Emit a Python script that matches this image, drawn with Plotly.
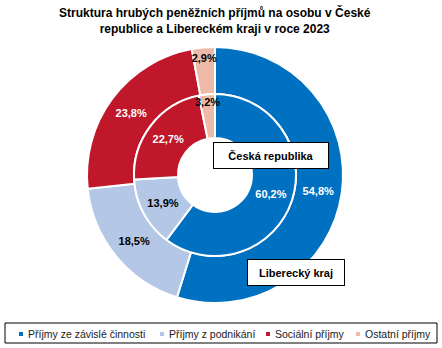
import plotly.graph_objects as go

categories = ["Příjmy ze závislé činnosti", "Příjmy z podnikání", "Sociální příjmy", "Ostatní příjmy"]
liberecky = [54.8, 18.5, 23.8, 2.9]
ceska = [60.2, 13.9, 22.7, 3.2]
colors = ["#0070C0", "#B4C7E7", "#C0182A", "#EDBAA7"]
outer_text_colors = ["white", "black", "white", "black"]
inner_text_colors = ["white", "black", "white", "black"]

W, H = 442, 348
cx, cy = 215, 175
R_out, R_in = 128, 81
R_hole = 37
FONT = "Liberation Sans, Arial"

def fmt(v):
    return f"{v:.1f}%".replace(".", ",")

def dom(r):
    return dict(x=[(cx - r) / W, (cx + r) / W], y=[1 - (cy + r) / H, 1 - (cy - r) / H])

fig = go.Figure()
fig.add_trace(go.Pie(
    labels=categories, values=liberecky, text=[fmt(v) for v in liberecky],
    textinfo="text", hoverinfo="label+text", sort=False, direction="clockwise", rotation=0,
    hole=R_in / R_out, domain=dom(R_out),
    marker=dict(colors=colors, line=dict(color="white", width=2)),
    textposition="inside", insidetextorientation="horizontal",
    textfont=dict(family=FONT, size=11, color=outer_text_colors, weight="bold"),
    name="Liberecký kraj", showlegend=False,
))
fig.add_trace(go.Pie(
    labels=categories, values=ceska, text=[fmt(v) for v in ceska],
    textinfo="text", hoverinfo="label+text", sort=False, direction="clockwise", rotation=0,
    hole=R_hole / R_in, domain=dom(R_in),
    marker=dict(colors=colors, line=dict(color="white", width=2)),
    textposition="inside", insidetextorientation="horizontal",
    textfont=dict(family=FONT, size=11, color=inner_text_colors, weight="bold"),
    name="Česká republika", showlegend=False,
))

# region labels
fig.add_annotation(x=271 / W, y=1 - 155.5 / H, xref="paper", yref="paper",
                   xanchor="center", yanchor="middle",
                   text="<b>Česká republika</b>", showarrow=False,
                   font=dict(family=FONT, size=11, color="black"),
                   bgcolor="white", bordercolor="black", borderwidth=1,
                   width=112, height=23)
fig.add_annotation(x=296 / W, y=1 - 272 / H, xref="paper", yref="paper",
                   xanchor="center", yanchor="middle",
                   text="<b>Liberecký kraj</b>", showarrow=False,
                   font=dict(family=FONT, size=11, color="black"),
                   bgcolor="white", bordercolor="black", borderwidth=1,
                   width=94, height=23)
# title
fig.add_annotation(x=215 / W, y=1 - 3 / H, xref="paper", yref="paper",
                   xanchor="center", yanchor="top", showarrow=False,
                   text="<b>Struktura hrubých peněžních příjmů na osobu v České<br>republice a Libereckém kraji v roce 2023</b>",
                   font=dict(family=FONT, size=12, color="black"))

# legend (box, swatches, labels)
fig.add_shape(type="rect", xref="paper", yref="paper",
              x0=5 / W, x1=437 / W, y0=1 - 343 / H, y1=1 - 323 / H,
              line=dict(color="black", width=1), fillcolor="white")
swatch_x = [21, 162, 268, 358]
ly = 334
for lab, col, sx in zip(categories, colors, swatch_x):
    fig.add_shape(type="rect", xref="paper", yref="paper",
                  x0=(sx - 2) / W, x1=(sx + 2) / W, y0=1 - (ly + 2) / H, y1=1 - (ly - 2) / H,
                  line=dict(width=0), fillcolor=col)
    fig.add_annotation(x=(sx + 5) / W, y=1 - ly / H, xref="paper", yref="paper",
                       xanchor="left", yanchor="middle", showarrow=False, text=lab,
                       font=dict(family=FONT, size=10.5, color="#1a1a1a"))

fig.update_layout(
    width=W, height=H,
    margin=dict(l=0, r=0, t=0, b=0),
    paper_bgcolor="white", plot_bgcolor="white",
    uniformtext=dict(minsize=11, mode="show"),
    showlegend=False,
)

fig.write_html("out.html")
